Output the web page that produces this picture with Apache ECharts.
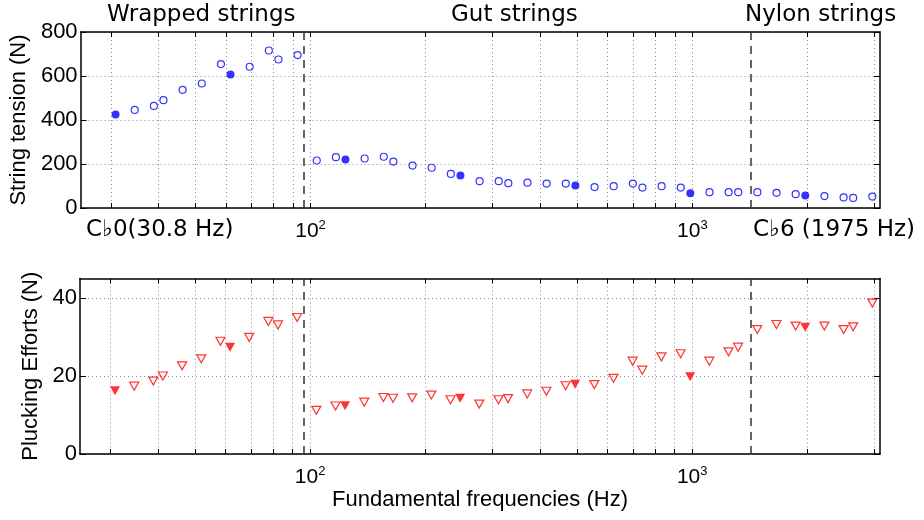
<!DOCTYPE html>
<html>
<head>
<meta charset="utf-8">
<script src="https://cdn.jsdelivr.net/npm/echarts@6/dist/echarts.min.js"></script>
<style>html,body{margin:0;padding:0;background:#fff;}#c{width:924px;height:520px;}</style>
</head>
<body>
<div id="c"></div>
<script>
// Harp string fundamental frequencies (Hz)
const freqs = [30.87, 34.65, 38.89, 41.20, 46.25, 51.91, 58.27,
  61.74, 69.30, 77.78, 82.41, 92.50, 103.83, 116.54,
  123.47, 138.59, 155.56, 164.81, 185.00, 207.65, 233.08,
  246.94, 277.18, 311.13, 329.63, 369.99, 415.30, 466.16,
  493.88, 554.37, 622.25, 698.46, 739.99, 830.61, 932.33,
  987.77, 1108.73, 1244.51, 1318.51, 1479.98, 1661.22, 1864.66,
  1975.53, 2217.46, 2489.02, 2637.02, 2959.96];
// String tension (N)
const tension = [425, 446, 464, 490, 537, 566, 654,
  607, 642, 716, 675, 695, 216, 231,
  220, 225, 233, 211, 193, 183, 155,
  148, 122, 122, 113, 115, 111, 111,
  102, 95, 99, 111, 93, 99, 93,
  67, 72, 72, 72, 72, 69, 63,
  57, 54, 48, 46, 52];
// Plucking efforts (N)
const effort = [16.2, 17.4, 18.7, 20.0, 22.6, 24.4, 28.9,
  27.4, 29.9, 34.0, 33.1, 35.0, 11.2, 12.3,
  12.4, 13.3, 14.5, 14.3, 14.4, 15.1, 13.9,
  14.3, 12.8, 13.9, 14.2, 15.4, 16.1, 17.5,
  17.9, 17.8, 19.4, 23.8, 21.5, 24.9, 25.7,
  19.8, 23.8, 26.2, 27.4, 31.9, 33.2, 32.8,
  32.5, 32.8, 31.9, 32.6, 38.7];
// Indices of the C-flat strings (filled markers)
const filledIdx = [0, 7, 14, 21, 28, 35, 42];
// String family boundaries (Hz)
const regionBounds = [96.1, 1419];
const regionNames = ['Wrapped strings', 'Gut strings', 'Nylon strings'];
const noteLabels = ['C\u266d0(30.8 Hz)', 'C\u266d6 (1975 Hz)'];
// Axis ticks
const xGridTicks = [30, 40, 50, 60, 70, 80, 90, 100, 200, 300, 400, 500, 600, 700, 800, 900, 1000, 2000, 3000];
const xLabelTicks = [100, 1000];
const xRange = [25, 3100];
const tensionAxis = {min: 0, max: 800, interval: 200};
const effortAxis = {min: 0, max: 45, ticks: [0, 20, 40]};

const FONT = 'Liberation Sans, Arial, Helvetica, sans-serif';
const AFONT = 'DejaVu Sans, sans-serif';

function pts(vals, filled) {
  const out = [];
  freqs.forEach((f, i) => {
    const isF = filledIdx.indexOf(i) >= 0;
    if (isF === filled) out.push([f, vals[i]]);
  });
  return out;
}

function xAxes(gridIndex, withLabels) {
  const base = {
    type: 'log', logBase: 10, gridIndex, min: xRange[0], max: xRange[1],
    axisLine: {show: true, onZero: false, lineStyle: {color: '#000', width: 1.5}},
    axisTick: {show: true, inside: true, length: 5, customValues: xGridTicks, lineStyle: {color: '#000', width: 1}},
    minorTick: {show: false}
  };
  return [
    Object.assign({}, base, {
      position: 'bottom',
      splitLine: {show: true, lineStyle: {color: '#888', type: [1, 3], width: 1}},
      axisLabel: {
        show: withLabels !== false, customValues: xLabelTicks, margin: 11,
        formatter: v => '{b|10}{s|' + Math.round(Math.log10(v)) + '}',
        rich: {b: {fontSize: 21, fontFamily: FONT, color: '#000'}, s: {fontSize: 13, fontFamily: FONT, color: '#000', padding: [0, 0, 12, 0]}}
      }
    }),
    Object.assign({}, base, {position: 'top', splitLine: {show: false}, axisLabel: {show: false}})
  ];
}

const xAxisAll = xAxes(0).concat(xAxes(1));
xAxisAll[2].name = 'Fundamental frequencies (Hz)';
xAxisAll[2].nameLocation = 'middle';
xAxisAll[2].nameGap = 34;
xAxisAll[2].nameTextStyle = {fontSize: 22, fontFamily: FONT, color: '#000'};

const yCommon = {
  axisLine: {show: true, lineStyle: {color: '#000', width: 1.5}},
  axisTick: {show: true, inside: true, length: 6, lineStyle: {color: '#000', width: 1}}
};

const option = {
  animation: false,
  backgroundColor: '#fff',
  grid: [
    {left: 80, right: 44, top: 32, height: 176},
    {left: 80, right: 44, top: 278.5, height: 175.5}
  ],
  xAxis: xAxisAll,
  yAxis: [
    Object.assign({}, yCommon, {
      type: 'value', gridIndex: 0, position: 'left', min: tensionAxis.min, max: tensionAxis.max, interval: tensionAxis.interval,
      name: 'String tension (N)', nameLocation: 'middle', nameGap: 44, nameRotate: 90,
      nameTextStyle: {fontSize: 22, fontFamily: FONT, color: '#000'},
      splitLine: {show: true, lineStyle: {color: '#888', type: [1, 3], width: 1}},
      axisLabel: {fontSize: 22, fontFamily: FONT, color: '#000', margin: 3}
    }),
    Object.assign({}, yCommon, {
      type: 'value', gridIndex: 0, position: 'right', min: tensionAxis.min, max: tensionAxis.max, interval: tensionAxis.interval,
      splitLine: {show: false}, axisLabel: {show: false}
    }),
    Object.assign({}, yCommon, {
      type: 'value', gridIndex: 1, position: 'left', min: effortAxis.min, max: effortAxis.max,
      axisTick: Object.assign({}, yCommon.axisTick, {customValues: effortAxis.ticks}),
      name: 'Plucking Efforts (N)', nameLocation: 'middle', nameGap: 32, nameRotate: 90,
      nameTextStyle: {fontSize: 22, fontFamily: FONT, color: '#000'},
      splitLine: {show: true, lineStyle: {color: '#888', type: [1, 3], width: 1}},
      axisLabel: {fontSize: 22, fontFamily: FONT, color: '#000', margin: 3, customValues: effortAxis.ticks}
    }),
    Object.assign({}, yCommon, {
      type: 'value', gridIndex: 1, position: 'right', min: effortAxis.min, max: effortAxis.max,
      axisTick: Object.assign({}, yCommon.axisTick, {customValues: effortAxis.ticks}),
      splitLine: {show: false}, axisLabel: {show: false}
    })
  ],
  series: [
    {
      type: 'scatter', xAxisIndex: 0, yAxisIndex: 0, data: pts(tension, false),
      symbol: 'circle', symbolSize: 7,
      itemStyle: {color: 'rgba(255,255,255,0)', borderColor: '#0000ff', borderWidth: 1.2},
      markLine: {
        silent: true, symbol: 'none', label: {show: false},
        lineStyle: {color: '#333', type: [8, 6], width: 1.5},
        data: regionBounds.map(v => ({xAxis: v}))
      }
    },
    {
      type: 'scatter', xAxisIndex: 0, yAxisIndex: 0, data: pts(tension, true),
      symbol: 'circle', symbolSize: 8, itemStyle: {color: '#0000ff'}
    },
    {
      type: 'scatter', xAxisIndex: 2, yAxisIndex: 2, data: pts(effort, false),
      symbol: 'triangle', symbolRotate: 180, symbolSize: [9, 8],
      itemStyle: {color: 'rgba(255,255,255,0)', borderColor: '#ff0000', borderWidth: 1.2},
      markLine: {
        silent: true, symbol: 'none', label: {show: false},
        lineStyle: {color: '#333', type: [8, 6], width: 1.5},
        data: regionBounds.map(v => ({xAxis: v}))
      }
    },
    {
      type: 'scatter', xAxisIndex: 2, yAxisIndex: 2, data: pts(effort, true),
      symbol: 'triangle', symbolRotate: 180, symbolSize: [10, 9], itemStyle: {color: '#ff0000'}
    }
  ],
  graphic: [
    {type: 'text', left: 107, top: 4, style: {text: regionNames[0], font: '23px ' + AFONT, fill: '#000'}},
    {type: 'text', left: 451, top: 4, style: {text: regionNames[1], font: '23px ' + AFONT, fill: '#000'}},
    {type: 'text', left: 745, top: 4, style: {text: regionNames[2], font: '23px ' + AFONT, fill: '#000'}},
    {type: 'text', left: 86, top: 219, style: {text: noteLabels[0], font: '23px ' + AFONT, fill: '#000'}},
    {type: 'text', left: 753, top: 219, style: {text: noteLabels[1], font: '23px ' + AFONT, fill: '#000'}}
  ]
};

const chart = echarts.init(document.getElementById('c'), null, {renderer: 'canvas'});
chart.setOption(option);
</script>
</body>
</html>
